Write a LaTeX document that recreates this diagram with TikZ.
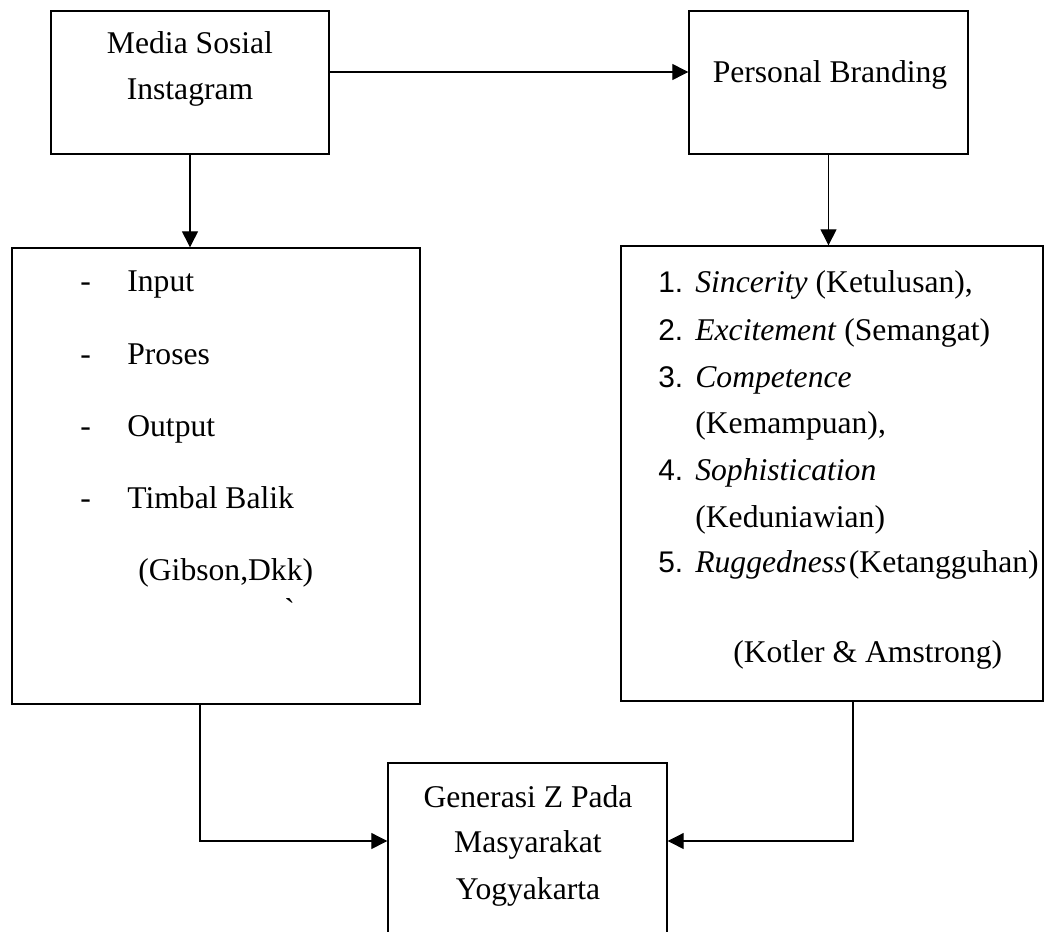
\documentclass[tikz,border=0pt]{standalone}
\usepackage{fontspec}
\setmainfont{Liberation Serif}
\newfontfamily\numfont{Liberation Sans}
\usetikzlibrary{arrows.meta}

\begin{document}
\begin{tikzpicture}[x=0.02cm, y=-0.02cm,
    box/.style={draw, line width=0.8pt, inner sep=0pt},
    txt/.style={anchor=base, inner sep=0pt, font=\fontsize{18}{26}\selectfont},
    item/.style={anchor=base west, inner sep=0pt, font=\fontsize{18}{26}\selectfont},
    num/.style={anchor=base west, inner sep=0pt, font=\numfont\fontsize{17}{26}\selectfont},
    arr/.style={line width=0.6pt, -{Triangle[length=0.32cm, width=0.32cm]}}]
    \useasboundingbox (0,0) rectangle (1047,932);

    % boxes
    \node[box, minimum width=5.56cm, minimum height=2.86cm] (media) at (190,82.5) {};
    \node[box, minimum width=5.58cm, minimum height=2.86cm] (branding) at (828.5,82.5) {};
    \node[box, minimum width=8.16cm, minimum height=9.12cm] (teori) at (216,476) {};
    \node[box, minimum width=8.44cm, minimum height=9.10cm] (dimensi) at (832,473.5) {};
    \node[box, minimum width=5.58cm, minimum height=3.94cm] (genz) at (527.5,861.5) {};

    % texts
    \node[txt] (mediaA) at (190,54) {Media Sosial};
    \node[txt] (mediaB) at (190,100) {Instagram};
    \node[txt] (brandTxt) at (830,83) {Personal Branding};

    \foreach \t [count=\i] in {Input, Proses, Output, Timbal Balik} {
        \node[item] (dash\i) at (80,220+72*\i) {-};
        \node[item] (elem\i) at (127,220+72*\i) {\t};
    }
    \node[item] (gibson) at (138,580) {(Gibson,Dkk)};
    \node[item] (tick) at (284,620) {\textasciigrave};

    \node[num] (n1) at (658,293) {1.};
    \node[item] (d1) at (695,293) {\textit{Sincerity} (Ketulusan),};
    \node[num] (n2) at (658,340) {2.};
    \node[item] (d2) at (695,340) {\textit{Excitement} (Semangat)};
    \node[num] (n3) at (658,387) {3.};
    \node[item] (d3) at (695,387) {\textit{Competence}};
    \node[item] (d3b) at (695,433) {(Kemampuan),};
    \node[num] (n4) at (658,480) {4.};
    \node[item] (d4) at (695,480) {\textit{Sophistication}};
    \node[item] (d4b) at (695,527) {(Keduniawian)};
    \node[num] (n5) at (658,572) {5.};
    \node[item] (d5) at (695,572) {\textit{Ruggedness}\hspace{0.08em}(Ketangguhan)};
    \node[item] (kotler) at (733,662) {(Kotler \& Amstrong)};

    \node[txt] (genzA) at (528,807) {Generasi Z Pada};
    \node[txt] (genzB) at (528,852) {Masyarakat};
    \node[txt] (genzC) at (528,899) {Yogyakarta};

    % connectors
    \coordinate (genzL) at ([yshift=0.41cm]genz.west);
    \coordinate (genzR) at ([yshift=0.41cm]genz.east);
    \draw[arr] ([yshift=0.21cm]media.east) -- ([yshift=0.21cm]branding.west);
    \draw[arr] (media.south) -- (media.south |- teori.north);
    \draw[arr] (branding.south) -- (branding.south |- dimensi.north);
    \draw[arr] ([xshift=-0.32cm]teori.south) |- (genzL);
    \draw[arr] ([xshift=0.42cm]dimensi.south) |- (genzR);
\end{tikzpicture}
\end{document}
